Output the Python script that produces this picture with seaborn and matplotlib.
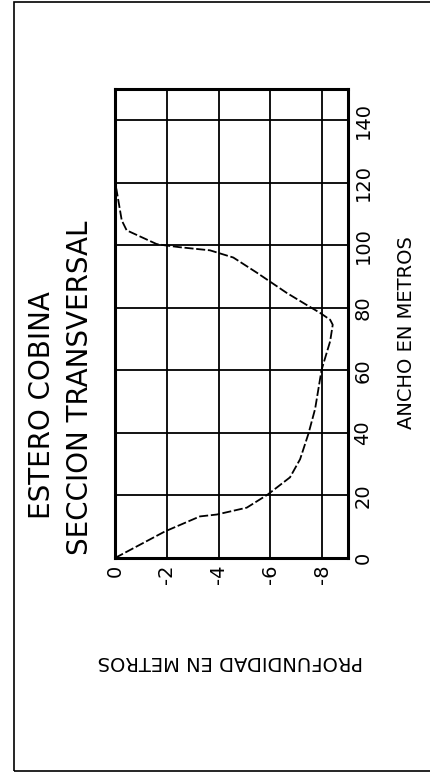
import matplotlib
matplotlib.use("Agg")
import matplotlib.pyplot as plt
import seaborn as sns
import pandas as pd
from matplotlib.patches import Rectangle

# Data read from the (rotated) cross-section chart
ancho = [0, 8.5, 13.3, 13.9, 16.1, 20.3, 25.8, 31.6, 39.7, 47.7, 60.2, 69.3,
         74.6, 76.2, 78.4, 80.6, 84.8, 91.3, 96.1, 98.4, 99.4, 100.0, 100.4,
         104.8, 108.0, 117.7, 120.0]
profundidad = [0, -1.93, -3.28, -3.93, -5.09, -5.9, -6.76, -7.15, -7.47, -7.73,
               -7.98, -8.31, -8.41, -8.31, -7.92, -7.47, -6.63, -5.47, -4.57,
               -3.67, -2.5, -1.93, -1.61, -0.45, -0.26, -0.06, 0]

depth_ticks = [0, -2, -4, -6, -8]
depth_labels = ["0", "-2", "-4", "-6", "-8"]
width_ticks = [0, 20, 40, 60, 80, 100, 120, 140]
width_labels = ["0", "20", "40", "60", "80", "100", "120", "140"]

title_1 = "ESTERO COBINA"
title_2 = "SECCION TRANSVERSAL"
xlabel = "ANCHO EN METROS"
ylabel = "PROFUNDIDAD EN METROS"

df = pd.DataFrame({"ancho": ancho, "prof": profundidad})

sns.set_theme(style="white")
plt.rcParams["font.family"] = ["DejaVu Sans"]

W, H = 430, 777
fig = plt.figure(figsize=(W / 100, H / 100), dpi=100)
fig.patch.set_facecolor("white")

ax = fig.add_axes([115 / W, 1 - 558 / H, (348 - 115) / W, (558 - 89) / H])
ax.set_facecolor("white")

sns.lineplot(data=df, x="prof", y="ancho", sort=False, estimator=None,
             color="black", linewidth=1.3, linestyle=(0, (5, 1.5)), ax=ax)

ax.set_xlim(0, -9)
ax.set_ylim(0, 150)

for d in depth_ticks[1:]:
    ax.axvline(d, color="black", linewidth=1.3, zorder=1)
for w in width_ticks[1:]:
    ax.axhline(w, color="black", linewidth=1.3, zorder=1)

ax.set_xticks(depth_ticks)
ax.set_xticklabels(depth_labels, rotation=90, fontsize=14)
ax.yaxis.tick_right()
ax.set_yticks(width_ticks)
ax.set_yticklabels(width_labels, rotation=90, fontsize=14, va="center")
ax.tick_params(axis="x", length=0, pad=5, colors="black")
ax.tick_params(axis="y", length=0, pad=4, colors="black")
ax.set_xlabel("")
ax.set_ylabel("")
for s in ax.spines.values():
    s.set_color("black")
    s.set_linewidth(2.2)

# Titles and axis labels (figure rotated 90 degrees)
fig.text(42.5 / W, 1 - 405 / H, title_1, rotation=90, ha="center", va="center",
         fontsize=20, color="black")
fig.text(80 / W, 1 - 388 / H, title_2, rotation=90, ha="center", va="center",
         fontsize=20, color="black")
fig.text(407 / W, 1 - 333 / H, xlabel, rotation=90, ha="center", va="center",
         fontsize=14, color="black")
fig.text(230 / W, 1 - 662 / H, ylabel, rotation=180, ha="center", va="center",
         fontsize=14, color="black")

# Page border
fig.patches.append(Rectangle((14 / W, 1 - 771 / H), (440 - 14) / W, (771 - 2) / H,
                             transform=fig.transFigure, fill=False,
                             edgecolor="black", linewidth=1.2))

fig.savefig("out.png", dpi=100, facecolor="white")
